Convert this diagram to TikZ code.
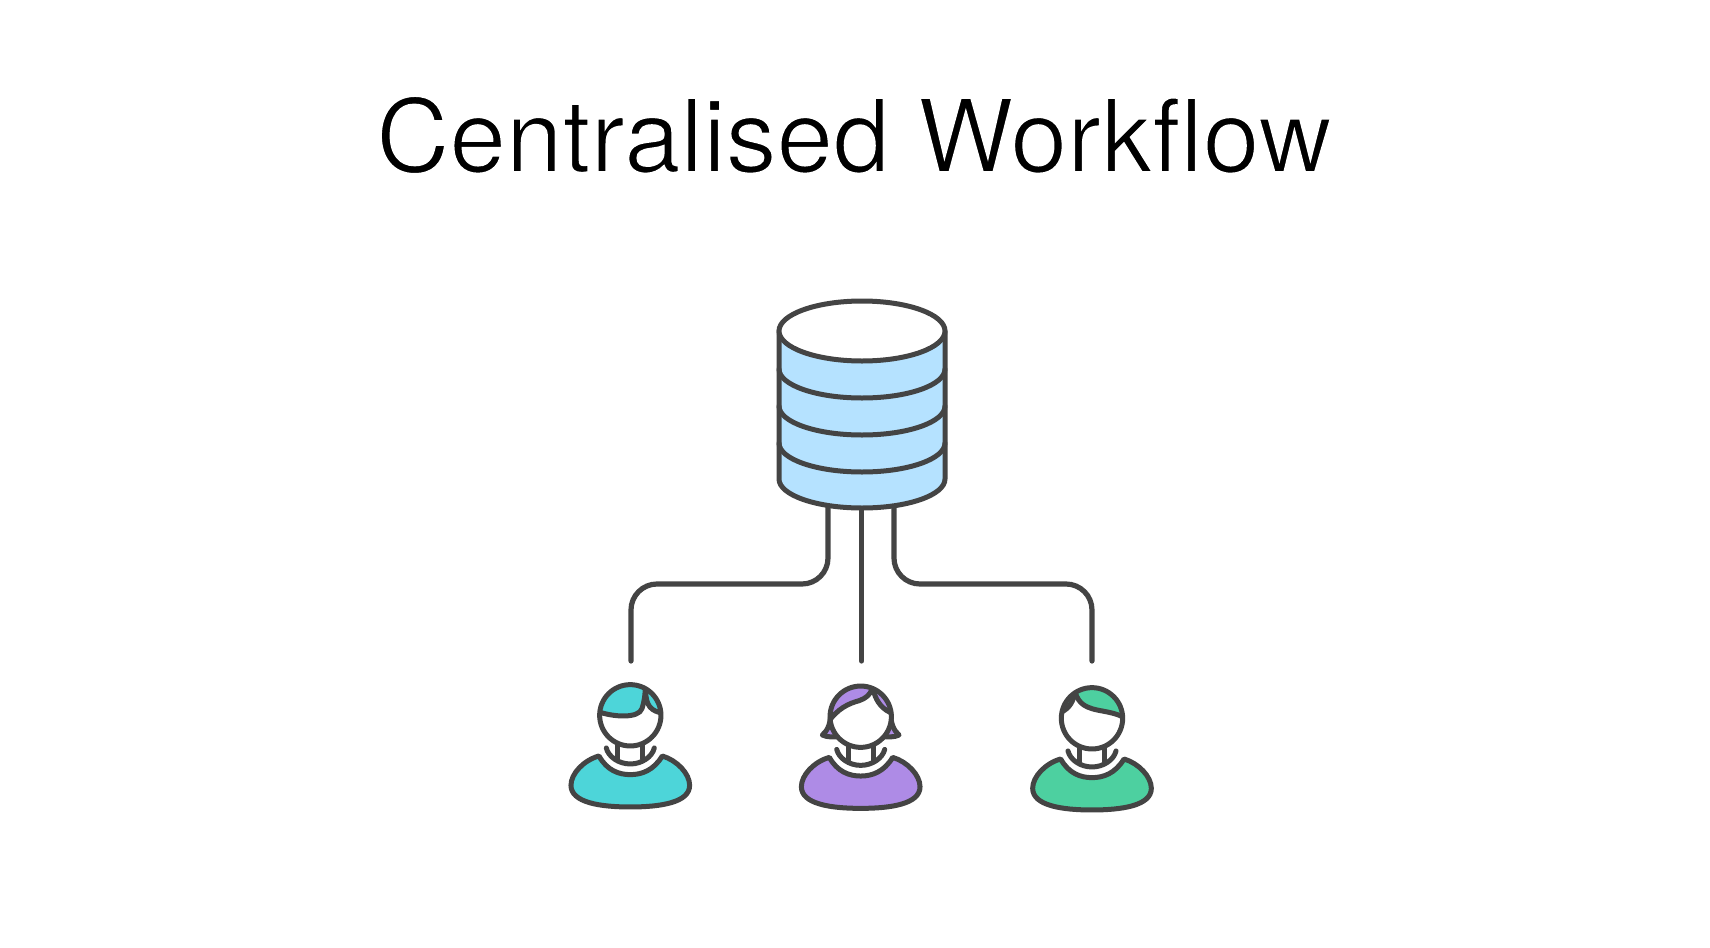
\documentclass[tikz,border=0pt]{standalone}
\usepackage{fontspec}
\setmainfont{TeX Gyre Heros}
\definecolor{ink}{HTML}{444444}
\definecolor{dbblue}{HTML}{B5E2FF}
\definecolor{teal1}{HTML}{4DD5D9}
\definecolor{purple1}{HTML}{AE8BE6}
\definecolor{green1}{HTML}{4DD0A0}
\tikzset{
  x=.5pt,y=-.5pt,
  line/.style={draw=ink,line width=2.5pt,line join=round,line cap=round},
  link/.style={draw=ink,line width=2.6pt,line cap=round,rounded corners=13pt},
  fig/.style={scale=1/3,x=.5pt,y=-.5pt},
}
\newcommand{\personbase}[1]{%
  \path[line,fill=#1] (-94,122) .. controls (-70,165) and (-35,178) .. (0,178)
    .. controls (35,178) and (70,165) .. (96,122)
    .. controls (140,135) and (178,175) .. (178,210)
    .. controls (178,262) and (90,275) .. (0,275)
    .. controls (-90,275) and (-178,262) .. (-178,210)
    .. controls (-178,175) and (-140,135) .. (-94,122) -- cycle;
  \draw[line] (-72,98) .. controls (-66,124) and (-35,146) .. (0,146)
    .. controls (35,146) and (66,124) .. (72,98);
  \draw[line] (-37,85) -- (-37,130) (37,85) -- (37,130);
}
\begin{document}
\begin{tikzpicture}
\useasboundingbox (0,0) rectangle (1710,948);
\fill[white] (0,0) rectangle (1710,948);
\node[anchor=base,inner sep=0pt,font=\fontsize{50.8pt}{60pt}\selectfont,text=black] (title) at (854,172)
  {\special{pdf:code q 2 Tr 1 1 1 RG 0.85 w}Centralised Workflow\special{pdf:code Q}};

% database
\coordinate (dbl) at (828,505);
\coordinate (dbc) at (861.7,505);
\coordinate (dbr) at (894,505);
\coordinate (u1) at (631,661);
\coordinate (u2) at (861.7,661);
\coordinate (u3) at (1092,661);
\draw[link] (dbl) -- (828,584) -- (631,584) -- (u1);
\draw[link] (dbc) -- (u2);
\draw[link] (dbr) -- (894,584) -- (1092,584) -- (u3);
\path[line,fill=dbblue] (779,331) -- (779,479) .. controls (779,495) and (816,508) .. (862,508)
  .. controls (908,508) and (945,495) .. (945,479) -- (945,331) -- cycle;
\draw[line] (779,369) .. controls (779,385) and (816,398) .. (862,398) .. controls (908,398) and (945,385) .. (945,369);
\draw[line] (779,406) .. controls (779,422) and (816,435) .. (862,435) .. controls (908,435) and (945,422) .. (945,406);
\draw[line] (779,443) .. controls (779,459) and (816,472) .. (862,472) .. controls (908,472) and (945,459) .. (945,443);
\path[line,fill=white] (862,331) ellipse [x radius=83,y radius=30];

% person 1
\begin{scope}[shift={(630.3,715.3)},fig]
  \personbase{teal1}
  \fill[white] (0,0) circle [radius=92];
  \begin{scope}
    \clip (0,0) circle [radius=92];
    \fill[teal1] (-100,-12) .. controls (-50,6) and (25,10) .. (35,-20) .. controls (42,-40) and (44,-60) .. (46,-90) -- (-100,-110) -- cycle;
    \fill[teal1] (46,-70) .. controls (48,-30) and (60,-12) .. (100,-6) -- (110,-90) -- cycle;
    \draw[line] (-100,-12) .. controls (-50,6) and (25,10) .. (35,-20) .. controls (42,-40) and (44,-60) .. (46,-90);
    \draw[line] (46,-70) .. controls (48,-30) and (60,-12) .. (100,-6);
  \end{scope}
  \draw[line] (0,0) circle [radius=92];
\end{scope}

% person 2
\begin{scope}[shift={(860.7,716.7)},fig]
  \personbase{purple1}
  \path[line,fill=purple1] (-90,-15) .. controls (-90,20) and (-98,40) .. (-115,55) .. controls (-100,62) and (-80,62) .. (-60,58) -- cycle;
  \path[line,fill=purple1] (90,-15) .. controls (90,20) and (98,40) .. (115,55) .. controls (100,62) and (80,62) .. (60,58) -- cycle;
  \fill[white] (0,0) circle [radius=92];
  \begin{scope}
    \clip (0,0) circle [radius=92];
    \fill[purple1] (-100,20) .. controls (-70,-25) and (-35,-40) .. (-5,-48) .. controls (15,-55) and (28,-65) .. (35,-85) -- (-100,-110) -- cycle;
    \fill[purple1] (40,-72) .. controls (48,-45) and (65,-20) .. (100,-8) -- (110,-90) -- cycle;
    \draw[line] (-100,20) .. controls (-70,-25) and (-35,-40) .. (-5,-48) .. controls (15,-55) and (28,-65) .. (35,-85);
    \draw[line] (40,-72) .. controls (48,-45) and (65,-20) .. (100,-8);
  \end{scope}
  \draw[line] (0,0) circle [radius=92];
\end{scope}

% person 3
\begin{scope}[shift={(1092,718.3)},fig]
  \personbase{green1}
  \fill[white] (0,0) circle [radius=92];
  \begin{scope}
    \clip (0,0) circle [radius=92];
    \fill[green1] (-55,-95) .. controls (-45,-50) and (-30,-35) .. (15,-25) .. controls (50,-18) and (75,-15) .. (100,0) -- (110,-110) -- cycle;
    \fill[green1] (-52,-72) .. controls (-60,-40) and (-75,-25) .. (-100,-15) -- (-100,-80) -- cycle;
    \draw[line] (-55,-95) .. controls (-45,-50) and (-30,-35) .. (15,-25) .. controls (50,-18) and (75,-15) .. (100,0);
    \draw[line] (-52,-72) .. controls (-60,-40) and (-75,-25) .. (-100,-15);
  \end{scope}
  \draw[line] (0,0) circle [radius=92];
\end{scope}
\end{tikzpicture}
\end{document}
